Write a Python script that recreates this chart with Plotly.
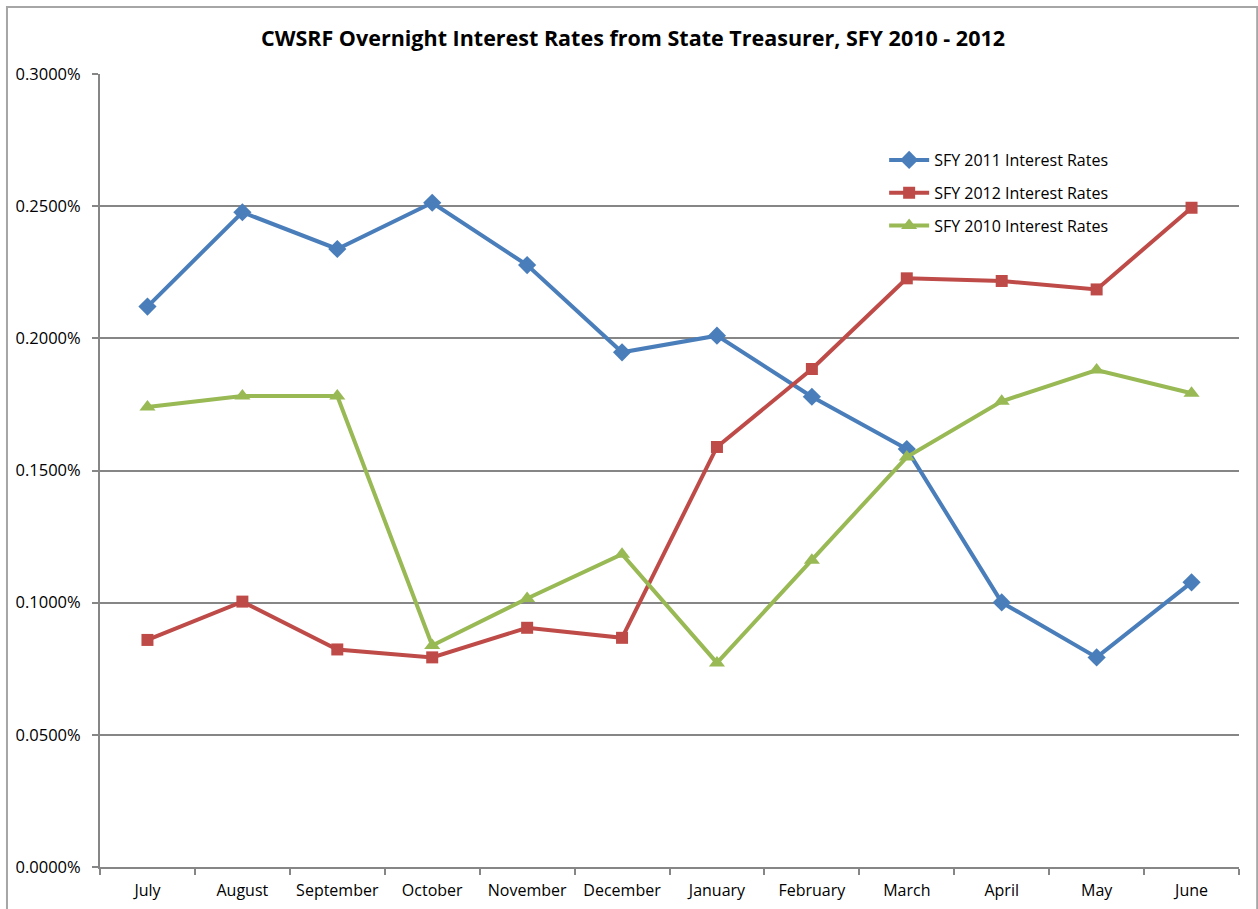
import plotly.graph_objects as go

months = ["July", "August", "September", "October", "November", "December",
          "January", "February", "March", "April", "May", "June"]

sfy2011 = [0.2120, 0.2477, 0.2338, 0.2513, 0.2277, 0.1947,
           0.2010, 0.1779, 0.1581, 0.1001, 0.0793, 0.1077]
sfy2012 = [0.0859, 0.1004, 0.0823, 0.0793, 0.0905, 0.0867,
           0.1589, 0.1884, 0.2227, 0.2217, 0.2185, 0.2494]
sfy2010 = [0.1740, 0.1782, 0.1782, 0.0838, 0.1016, 0.1183,
           0.0772, 0.1160, 0.1551, 0.1762, 0.1880, 0.1792]

y_ticks = [0.0, 0.05, 0.10, 0.15, 0.20, 0.25, 0.30]
y_tick_labels = ["0.0000%", "0.0500%", "0.1000%", "0.1500%", "0.2000%", "0.2500%", "0.3000%"]

FONT = "Open Sans"
fig = go.Figure()

series = [
    ("SFY 2011 Interest Rates", sfy2011, "#4a7ebb", "diamond", 14),
    ("SFY 2012 Interest Rates", sfy2012, "#be4b48", "square", 12),
    ("SFY 2010 Interest Rates", sfy2010, "#98b954", "triangle-up", 14),
]
for name, vals, col, sym, sz in series:
    fig.add_trace(go.Scatter(
        x=months, y=vals, name=name, mode="lines+markers",
        line=dict(color=col, width=4),
        marker=dict(symbol=sym, size=sz, color=col, line=dict(width=0)),
        legendgroup=name,
    ))

# outer chart border
fig.add_shape(type="rect", xref="paper", yref="paper",
              x0=(7 - 100) / 1138.8, x1=(1257 - 100) / 1138.8,
              y0=(867 - 930) / 793, y1=(867 - 7) / 793,
              line=dict(color="#a6a6a6", width=2), fillcolor="rgba(0,0,0,0)",
              layer="below")

fig.update_layout(
    width=1258, height=909,
    margin=dict(l=100, r=19, t=74, b=42),
    paper_bgcolor="white", plot_bgcolor="white",
    title=dict(text="<b>CWSRF Overnight Interest Rates from State Treasurer, SFY 2010 - 2012</b>",
               x=633 / 1258, xref="container", xanchor="center",
               y=1 - 38 / 909, yref="container", yanchor="middle",
               font=dict(family=FONT, size=21.5, color="#000000")),
    font=dict(family=FONT, color="#000000"),
    showlegend=True,
    legend=dict(x=(884 - 100) / 1138.8, xanchor="left",
                y=(867 - 143) / 793, yanchor="top",
                font=dict(family=FONT, size=16, color="#000000"),
                bgcolor="rgba(0,0,0,0)", traceorder="grouped",
                tracegroupgap=9, itemwidth=40),
    xaxis=dict(type="category", range=[-0.5, 11.5], automargin=False,
               showline=True, linecolor="#868686", linewidth=2,
               ticks="outside", ticklen=6, tickcolor="#868686", tickwidth=2,
               tickson="boundaries", showgrid=False, ticklabelstandoff=8,
               tickfont=dict(family=FONT, size=16, color="#000000")),
    yaxis=dict(range=[0, 0.3], tickmode="array", tickvals=y_ticks, ticktext=y_tick_labels,
               automargin=False,
               showline=True, linecolor="#868686", linewidth=2,
               ticks="outside", ticklen=6, tickcolor="#868686", tickwidth=2,
               showgrid=True, gridcolor="#868686", gridwidth=2, zeroline=False,
               ticklabelstandoff=8,
               tickfont=dict(family=FONT, size=16.5, color="#000000")),
)

fig.write_html("out.html")
